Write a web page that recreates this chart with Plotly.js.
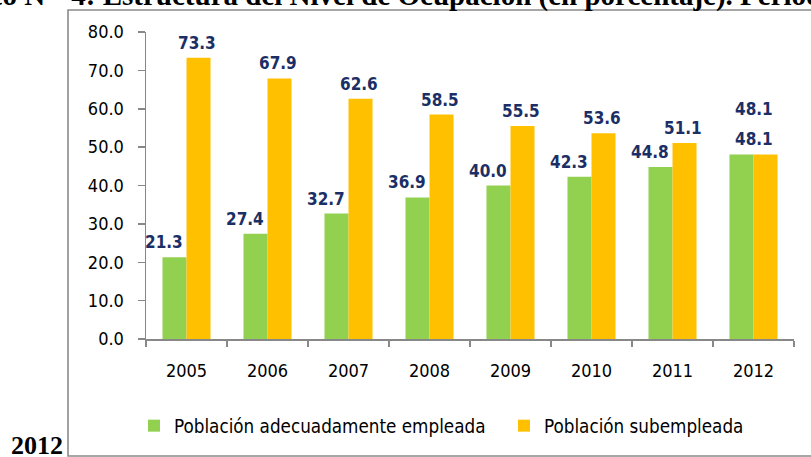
<!DOCTYPE html>
<html>
<head>
<meta charset="utf-8">
<script src="https://cdn.plot.ly/plotly-3.0.1.min.js"></script>
<style>
  html, body { margin: 0; padding: 0; background: #ffffff; }
  #chart { width: 811px; height: 457px; }
</style>
</head>
<body>
<div id="chart"></div>
<script>
const years = ["2005", "2006", "2007", "2008", "2009", "2010", "2011", "2012"];
const adecuada = [21.3, 27.4, 32.7, 36.9, 40.0, 42.3, 44.8, 48.1];
const subempleada = [73.3, 67.9, 62.6, 58.5, 55.5, 53.6, 51.1, 48.1];
const seriesNames = ["Población adecuadamente empleada", "Población subempleada"];
const yTicks = [0, 10, 20, 30, 40, 50, 60, 70, 80];
const titleText = "Gráfico N°  4: Estructura del Nivel de Ocupación (en porcentaje). Periodo 2005 -";
const titleLine2 = "2012";

const W = 811, H = 457;
const M = { l: 146, r: 17, t: 32, b: 118 };
const pw = W - M.l - M.r, ph = H - M.t - M.b;
const px = x => (x - M.l) / pw;
const py = y => (H - M.b - y) / ph;

const sans = "'DejaVu Sans Condensed', 'DejaVu Sans', sans-serif";
const serif = "'Liberation Serif', 'DejaVu Serif', serif";
const green = "#92D050", orange = "#FFC000", navy = "#1B2F66", axisCol = "#888888";

const traces = [
  { type: "bar", name: seriesNames[0], x: years, y: adecuada, legend: "legend",
    marker: { color: green }, hoverinfo: "skip" },
  { type: "bar", name: seriesNames[1], x: years, y: subempleada, legend: "legend2",
    marker: { color: orange }, hoverinfo: "skip" }
];

const labelFont = { family: sans, size: 17, color: navy, weight: "bold" };
const annotations = [];
years.forEach((yr, i) => {
  const same = adecuada[i] === subempleada[i];
  annotations.push({ x: i, y: adecuada[i], xref: "x", yref: "y",
    text: adecuada[i].toFixed(1), showarrow: false, xanchor: "center", yanchor: "bottom",
    xshift: same ? 0 : -23, yshift: 3, font: labelFont });
  annotations.push({ x: i, y: subempleada[i], xref: "x", yref: "y",
    text: subempleada[i].toFixed(1), showarrow: false, xanchor: "center", yanchor: "bottom",
    xshift: same ? 0 : 10, yshift: same ? 33 : 3, font: labelFont });
});
annotations.push({ xref: "paper", yref: "paper", x: px(-80), y: py(14),
  xanchor: "left", yanchor: "bottom", showarrow: false, text: titleText,
  font: { family: serif, size: 29, color: "#000000", weight: "bold" } });
annotations.push({ xref: "paper", yref: "paper", x: px(9), y: py(462),
  xanchor: "left", yanchor: "bottom", showarrow: false, text: titleLine2,
  font: { family: serif, size: 26, color: "#000000", weight: "bold" } });

const legendFont = { family: sans, size: 18.7, color: "#000000" };
const layout = {
  width: W, height: H,
  margin: M,
  paper_bgcolor: "#ffffff", plot_bgcolor: "#ffffff",
  barmode: "group", bargap: 0.407, bargroupgap: 0,
  showlegend: true,
  legend: { orientation: "h", x: px(134), xanchor: "left", y: py(426), yanchor: "middle",
    font: legendFont, bgcolor: "rgba(0,0,0,0)" },
  legend2: { orientation: "h", x: px(504), xanchor: "left", y: py(426), yanchor: "middle",
    font: legendFont, bgcolor: "rgba(0,0,0,0)" },
  xaxis: { type: "category", range: [-0.5, years.length - 0.5], showline: true,
    linecolor: axisCol, linewidth: 1.5,
    ticks: "outside", tickson: "boundaries", ticklen: 6, tickcolor: axisCol, tickwidth: 1.5,
    ticklabelstandoff: 15, tickangle: 0,
    tickfont: { family: sans, size: 18, color: "#000000" }, showgrid: false, fixedrange: true },
  yaxis: { range: [0, 80], tickvals: yTicks, tickformat: ".1f", showline: true,
    linecolor: axisCol, linewidth: 1.5, ticks: "outside", ticklen: 7, tickcolor: axisCol,
    tickwidth: 1.5, ticklabelstandoff: 10, showgrid: false, zeroline: false,
    tickfont: { family: sans, size: 18, color: "#000000" }, fixedrange: true },
  shapes: [{ type: "rect", xref: "paper", yref: "paper",
    x0: px(68), x1: px(820), y0: py(456), y1: py(10),
    line: { color: "#8a8a8a", width: 1.6 }, fillcolor: "rgba(0,0,0,0)", layer: "below" }],
  annotations: annotations
};

Plotly.newPlot("chart", traces, layout, { displayModeBar: false, staticPlot: true });
</script>
</body>
</html>
